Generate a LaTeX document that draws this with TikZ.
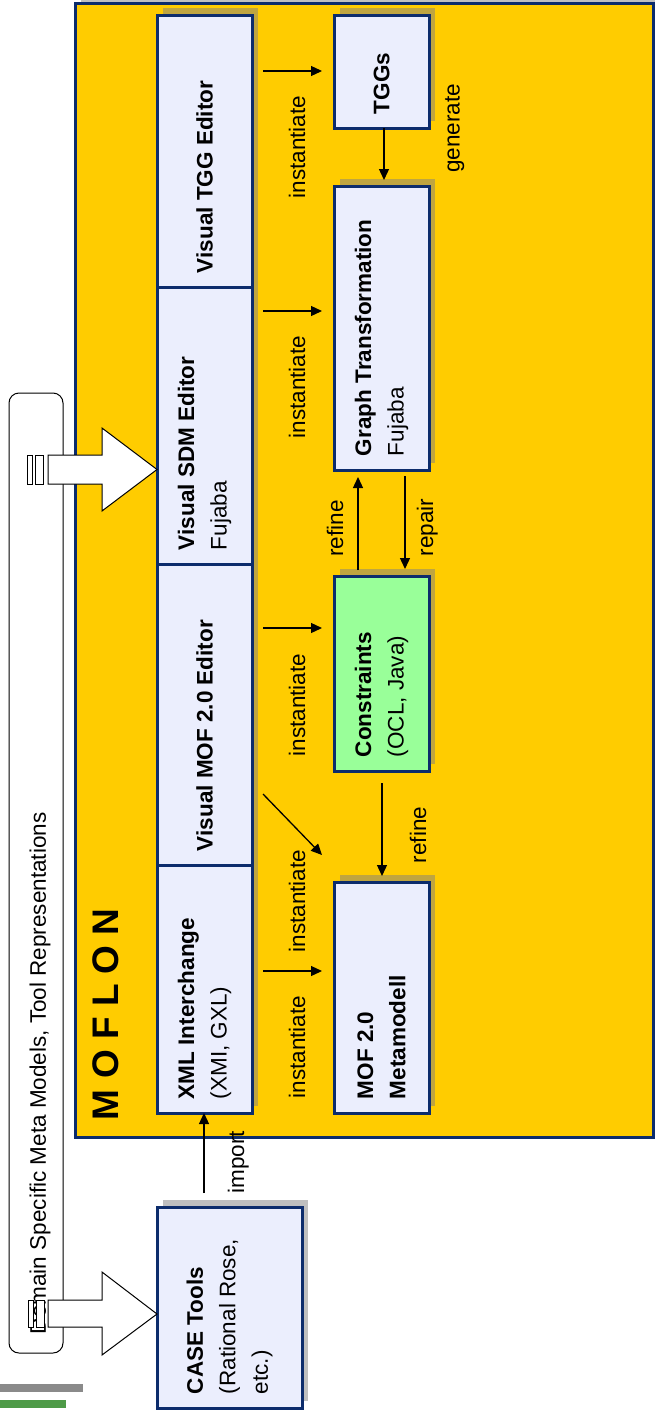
\documentclass[tikz,border=0pt]{standalone}
\usepackage{fontspec}
\setmainfont{Liberation Sans}
\usepackage{graphicx}
\usetikzlibrary{arrows.meta,calc}
\definecolor{navy}{HTML}{0C2C6C}
\definecolor{boxfill}{HTML}{EBEEFD}
\definecolor{moflonyellow}{HTML}{FFCC00}
\definecolor{consgreen}{HTML}{99FF99}
\definecolor{bargray}{HTML}{8A8A8A}
\definecolor{bargreen}{HTML}{4E9A47}
\pgfdeclarelayer{bglayer}
\pgfdeclarelayer{shadowlayer}
\pgfsetlayers{bglayer,shadowlayer,main}
\newcommand{\vtext}[2]{\rotatebox{90}{\parbox{#1}{\raggedright #2}}}
\newcommand{\boxshadow}[1]{\fill[shadowfill] ([shift={(6,7)}]#1.south west) rectangle ([shift={(6,7)}]#1.north east);}
\begin{document}
\begin{tikzpicture}[x=1pt,y=1pt,
  every node/.style={font=\fontsize{22.5}{32.5}\selectfont, inner sep=0pt, outer sep=0pt},
  compbox/.style={draw=navy, line width=3pt, fill=boxfill},
  shadowfill/.style={fill=gray, opacity=0.5},
  conn/.style={line width=1.3pt, -{Triangle[length=11pt,width=10pt]}},
  lbl/.style={rotate=90, anchor=base},
  bigarrow/.style={draw=black, line width=1pt, fill=white},
]
\useasboundingbox (0,0) rectangle (655,-1416);
\clip (0,0) rectangle (655,-1416);

% MOFLON container
\begin{pgfonlayer}{bglayer}
\fill[shadowfill] (81,4) rectangle (659,-1130);
\node[draw=navy, line width=3pt, fill=moflonyellow, minimum width=578pt, minimum height=1134pt] (moflon) at (364,-570) {};
\end{pgfonlayer}
\node[rotate=90, anchor=west, font=\fontsize{37}{40}\selectfont\bfseries] (moflonlabel) at (106,-1120) {M O F L O N};

% left column
\node[compbox, minimum width=95pt, minimum height=272pt] (tgged) at (204.5,-151) {\vtext{244pt}{\bfseries Visual TGG Editor}};
\node[compbox, minimum width=95pt, minimum height=277pt] (sdmed) at (204.5,-425.5) {\vtext{249pt}{\textbf{Visual SDM Editor}\\Fujaba}};
\node[compbox, minimum width=95pt, minimum height=301pt] (mofed) at (204.5,-714.5) {\vtext{273pt}{\bfseries Visual MOF 2.0 Editor}};
\node[compbox, minimum width=95pt, minimum height=248pt] (xml) at (204.5,-989) {\vtext{220pt}{\textbf{XML Interchange}\\(XMI, GXL)}};

% right column
\node[compbox, minimum width=95pt, minimum height=113pt] (tggs) at (381.5,-71.5) {\vtext{85pt}{\bfseries TGGs}};
\node[compbox, minimum width=95pt, minimum height=284pt] (gt) at (381.5,-328) {\vtext{256pt}{\textbf{Graph Transformation}\\Fujaba}};
\node[compbox, fill=consgreen, minimum width=95pt, minimum height=195pt] (cons) at (381.5,-673.5) {\vtext{167pt}{\textbf{Constraints}\\(OCL, Java)}};
\node[compbox, minimum width=95pt, minimum height=231pt] (meta) at (381.5,-997.5) {\vtext{203pt}{\bfseries MOF 2.0\\Metamodell}};

% CASE tools
\node[compbox, minimum width=145pt, minimum height=201pt] (case) at (229.5,-1307.5) {\vtext{173pt}{\textbf{CASE Tools}\\(Rational Rose,\\etc.)}};

% shadows
\begin{pgfonlayer}{shadowlayer}
\boxshadow{tgged}\boxshadow{sdmed}\boxshadow{mofed}\boxshadow{xml}
\boxshadow{tggs}\boxshadow{gt}\boxshadow{cons}\boxshadow{meta}
\boxshadow{case}
\end{pgfonlayer}

% domain specific frame
\node[draw=black, line width=1pt, rounded corners=10pt, fill=white, minimum width=54pt, minimum height=960pt] (dsm) at (36,-873) {};
\node[rotate=90, anchor=west, font=\fontsize{22.5}{26}\selectfont] (dsmlabel) at (40,-1334) {Domain Specific Meta Models, Tool Representations};

% big striped arrows
\draw[bigarrow] (48,-455) -- (102,-455) -- (102,-428) -- (157,-469.5) -- (102,-511) -- (102,-484) -- (48,-484) -- cycle;
\draw[bigarrow] (27,-455) rectangle (32,-484);
\draw[bigarrow] (35,-455) rectangle (43,-484);
\draw[bigarrow] (48,-1300) -- (102,-1300) -- (102,-1272) -- (157,-1314) -- (102,-1355) -- (102,-1327) -- (48,-1327) -- cycle;
\draw[bigarrow] (28,-1300) rectangle (33,-1327);
\draw[bigarrow] (36,-1300) rectangle (44,-1327);

% bars
\fill[bargray] (0,-1384) rectangle (83,-1392);
\fill[bargreen] (0,-1400) rectangle (66,-1408);

% connectors
\draw[conn, shorten <=11pt, shorten >=12pt] (tgged.east |- 0,-71) -- (tggs.west |- 0,-71);
\draw[conn, shorten <=11pt, shorten >=12pt] (sdmed.east |- 0,-311) -- (gt.west |- 0,-311);
\draw[conn, shorten <=11pt, shorten >=12pt] (mofed.east |- 0,-628) -- (cons.west |- 0,-628);
\draw[conn] ($(mofed.east)+(11,-79.5)$) -- ($(meta.west)+(-12,142.5)$);
\draw[conn, shorten <=11pt, shorten >=12pt] (xml.east |- 0,-971) -- (meta.west |- 0,-971);
\draw[conn, shorten >=6pt] (tggs.south -| 384,0) -- (gt.north -| 384,0);
\draw[conn, shorten <=6pt, shorten >=7pt] (cons.north -| 358,0) -- (gt.south -| 358,0);
\draw[conn, shorten <=6pt, shorten >=7pt] (gt.south -| 405,0) -- (cons.north -| 405,0);
\draw[conn, shorten <=12pt, shorten >=6pt] (cons.south -| 382,0) -- (meta.north -| 382,0);
\draw[conn, shorten <=14pt] (case.north -| 204,0) -- (xml.south -| 204,0);

% labels
\node[lbl] (l1) at (305,-147) {instantiate};
\node[lbl] (l2) at (305,-387) {instantiate};
\node[lbl] (l3) at (305,-705) {instantiate};
\node[lbl] (l4) at (305,-901) {instantiate};
\node[lbl] (l5) at (305,-1047) {instantiate};
\node[lbl] (l6) at (459.5,-128.5) {generate};
\node[lbl] (l7) at (343,-528.5) {refine};
\node[lbl] (l8) at (433,-527.5) {repair};
\node[lbl] (l9) at (426,-835) {refine};
\node[lbl] (l10) at (244,-1162) {import};
\end{tikzpicture}
\end{document}
